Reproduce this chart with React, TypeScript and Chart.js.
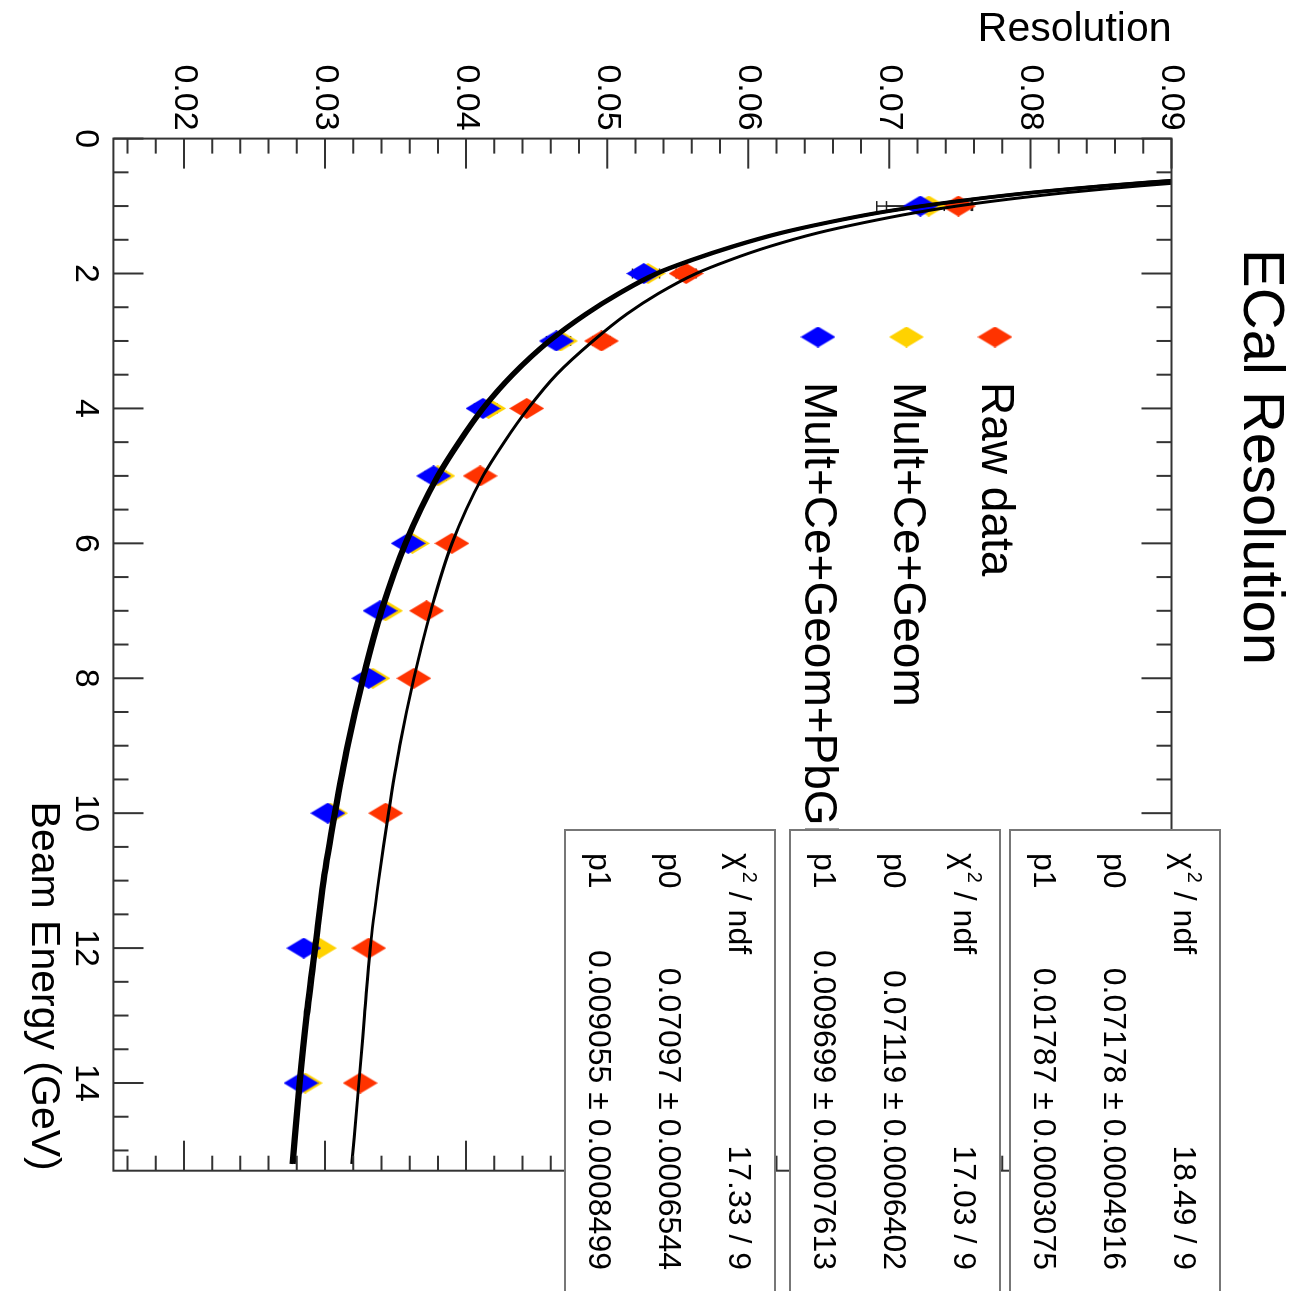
import React, { useEffect, useRef } from 'react';
import { Chart, registerables } from 'chart.js';
Chart.register(...registerables);

// ---- data ----
const energies = [1, 2, 3, 4, 5, 6, 7, 8, 10, 12, 14];
const rawRes = [0.0749, 0.0556, 0.0496, 0.0443, 0.041, 0.039, 0.0372, 0.0363, 0.0343, 0.0331, 0.0325];
const geomRes = [0.0728, 0.0529, 0.0467, 0.0416, 0.038, 0.0362, 0.0343, 0.0334, 0.0304, 0.0296, 0.0286];
const pbglRes = [0.0722, 0.0526, 0.0464, 0.0412, 0.0377, 0.0359, 0.0339, 0.0331, 0.0302, 0.0285, 0.0283];
const rawErr = [0.001, 0.0007, 0.0006, 0.0005, 0.0005, 0.0004, 0.0004, 0.0004, 0.0004, 0.0004, 0.0004];
const geomErr = [0.003, 0.0008, 0.0007, 0.0006, 0.0006, 0.0005, 0.0005, 0.0005, 0.0005, 0.0005, 0.0005];
const pbglErr = [0.0031, 0.0008, 0.0007, 0.0006, 0.0006, 0.0005, 0.0005, 0.0005, 0.0005, 0.0005, 0.0005];

const fitE = [0.6, 0.65, 0.7, 0.75, 0.8, 0.9, 1.0, 1.1, 1.25, 1.4, 1.6, 1.8, 2.0, 2.3, 2.6, 3.0, 3.5, 4.0, 4.5, 5, 6, 7, 8, 9, 10, 11, 12, 13, 14, 15.2];
const fitRaw = [0.0942, 0.0908, 0.0878, 0.0851, 0.0826, 0.0784, 0.0748, 0.0718, 0.0681, 0.0649, 0.0615, 0.0587, 0.0563, 0.0536, 0.0514, 0.049, 0.0464, 0.0444, 0.0427, 0.0412, 0.039, 0.0375, 0.0363, 0.0353, 0.0345, 0.0338, 0.0332, 0.0328, 0.0324, 0.0319];
const fitGeom = [0.0918, 0.0884, 0.0854, 0.0827, 0.0802, 0.076, 0.0724, 0.0693, 0.0656, 0.0624, 0.059, 0.0561, 0.0536, 0.0509, 0.0486, 0.046, 0.0434, 0.0413, 0.0396, 0.0381, 0.0358, 0.0341, 0.0328, 0.0317, 0.0308, 0.03, 0.0294, 0.0288, 0.0283, 0.0278];
const fitPbgl = [0.0916, 0.0882, 0.0852, 0.0825, 0.08, 0.0758, 0.0722, 0.0691, 0.0654, 0.0622, 0.0588, 0.0559, 0.0534, 0.0507, 0.0484, 0.0458, 0.0432, 0.0411, 0.0394, 0.0379, 0.0356, 0.0339, 0.0326, 0.0315, 0.0306, 0.0298, 0.0292, 0.0286, 0.0281, 0.0276];

const xTicks = [0, 2, 4, 6, 8, 10, 12, 14];
const yTicks = [0.02, 0.03, 0.04, 0.05, 0.06, 0.07, 0.08, 0.09];
const xRange = [0, 15.3];
const yRange = [0.015, 0.09];

const seriesLabels = ['Raw data', 'Mult+Ce+Geom', 'Mult+Ce+Geom+PbGl'];
const seriesColors = ['#ff3300', '#ffd200', '#0000ff'];

const statChi = ['18.49 / 9', '17.03 / 9', '17.33 / 9'];
const statP0 = ['0.07178 \u00b1 0.0004916', '0.07119 \u00b1 0.0006402', '0.07097 \u00b1 0.0006544'];
const statP1 = ['0.01787 \u00b1 0.0003075', '0.009699 \u00b1 0.0007613', '0.009055 \u00b1 0.0008499'];

const FONT = '"Liberation Sans", Arial, Helvetica, sans-serif';
const W = 1291;
const H = 1290;

function makeDiamond(color: string) {
  const c = document.createElement('canvas');
  c.width = 21;
  c.height = 35;
  const g = c.getContext('2d')!;
  g.fillStyle = color;
  g.beginPath();
  g.moveTo(10.5, 0);
  g.lineTo(21, 17.5);
  g.lineTo(10.5, 35);
  g.lineTo(0, 17.5);
  g.closePath();
  g.fill();
  return c;
}

export default function App() {
  const ref = useRef<HTMLCanvasElement>(null);

  useEffect(() => {
    const canvas = ref.current!;
    const diamonds = seriesColors.map(makeDiamond);
    const vals = [rawRes, geomRes, pbglRes];
    const errs = [rawErr, geomErr, pbglErr];

    const rootPlugin = {
      id: 'rootStyle',
      beforeDatasetsDraw(chart: any) {
        const { ctx, scales } = chart;
        const x = scales.x, y = scales.y;
        ctx.save();
        ctx.strokeStyle = '#222';
        ctx.lineWidth = 1.5;
        vals.forEach((v, s) => {
          v.forEach((val, i) => {
            const px = x.getPixelForValue(energies[i]);
            const y1 = y.getPixelForValue(val - errs[s][i]);
            const y2 = y.getPixelForValue(val + errs[s][i]);
            ctx.beginPath();
            ctx.moveTo(px, y1); ctx.lineTo(px, y2);
            ctx.moveTo(px - 5, y1); ctx.lineTo(px + 5, y1);
            ctx.moveTo(px - 5, y2); ctx.lineTo(px + 5, y2);
            ctx.stroke();
          });
        });
        ctx.restore();
      },
      afterDraw(chart: any) {
        const { ctx, chartArea: a, scales } = chart;
        const x = scales.x, y = scales.y;
        ctx.save();
        // ticks (inside, on all four sides)
        ctx.strokeStyle = '#333';
        ctx.lineWidth = 2;
        ctx.beginPath();
        for (let k = 0; k <= 30; k++) {
          const v = k * 0.5;
          if (v > xRange[1]) break;
          const px = x.getPixelForValue(v);
          const len = k % 4 === 0 ? 30 : 15;
          ctx.moveTo(px, a.bottom); ctx.lineTo(px, a.bottom - len);
          ctx.moveTo(px, a.top); ctx.lineTo(px, a.top + len);
        }
        for (let k = 8; k <= 45; k++) {
          const v = k * 0.002;
          const py = y.getPixelForValue(v);
          const len = k % 5 === 0 ? 30 : 15;
          ctx.moveTo(a.left, py); ctx.lineTo(a.left + len, py);
          ctx.moveTo(a.right, py); ctx.lineTo(a.right - len, py);
        }
        ctx.stroke();
        ctx.strokeRect(a.left, a.top, a.right - a.left, a.bottom - a.top);

        // axis titles
        ctx.fillStyle = '#000';
        ctx.font = `41px ${FONT}`;
        ctx.textBaseline = 'middle';
        ctx.textAlign = 'right';
        ctx.fillText('Beam Energy (GeV)', a.right, 1247);
        ctx.save();
        ctx.translate(30, a.top);
        ctx.rotate(-Math.PI / 2);
        ctx.textAlign = 'right';
        ctx.fillText('Resolution', 0, 0);
        ctx.restore();

        // legend
        ctx.font = `46px ${FONT}`;
        ctx.textAlign = 'left';
        seriesLabels.forEach((lab, i) => {
          const cy = 295 + i * 88.5;
          const d = diamonds[i];
          ctx.drawImage(d, 337 - d.width / 2, cy - d.height / 2);
          ctx.fillStyle = '#000';
          ctx.fillText(lab, 382, cy);
        });

        // stat boxes
        const tops = [70, 290, 515];
        tops.forEach((t, i) => {
          ctx.fillStyle = '#fff';
          ctx.fillRect(830, t, 480, 210);
          ctx.strokeStyle = '#777';
          ctx.lineWidth = 2;
          ctx.strokeRect(830, t, 480, 210);
          ctx.fillStyle = '#000';
          ctx.font = `32px ${FONT}`;
          ctx.textAlign = 'left';
          ctx.textBaseline = 'middle';
          const r1 = t + 37, r2 = t + 107, r3 = t + 177;
          ctx.fillText('\u03c7', 853, r1);
          const wChi = ctx.measureText('\u03c7').width;
          ctx.font = `20px ${FONT}`;
          ctx.fillText('2', 853 + wChi + 2, r1 - 11);
          const w2 = ctx.measureText('2').width;
          ctx.font = `32px ${FONT}`;
          ctx.fillText(' / ndf', 853 + wChi + 2 + w2, r1);
          ctx.fillText('p0', 853, r2);
          ctx.fillText('p1', 853, r3);
          ctx.textAlign = 'right';
          ctx.fillText(statChi[i], 1270, r1);
          ctx.fillText(statP0[i], 1270, r2);
          ctx.fillText(statP1[i], 1270, r3);
        });

        // title
        ctx.fillStyle = '#000';
        ctx.font = `58px ${FONT}`;
        ctx.textAlign = 'center';
        ctx.textBaseline = 'middle';
        ctx.fillText('ECal Resolution', 457, 30);
        ctx.restore();
      },
    };

    const lineDs = (data: number[], width: number) => ({
      data: fitE.map((e, i) => ({ x: e, y: data[i] })),
      showLine: true,
      borderColor: '#000',
      borderWidth: width,
      pointRadius: 0,
      cubicInterpolationMode: 'monotone' as const,
      order: 0,
    });
    const ptDs = (label: string, data: number[], idx: number, order: number) => ({
      label,
      data: energies.map((e, i) => ({ x: e, y: data[i] })),
      showLine: false,
      pointStyle: diamonds[idx],
      pointRadius: 10,
      backgroundColor: seriesColors[idx],
      borderColor: seriesColors[idx],
      order,
    });

    const tickFont = { family: FONT, size: 34 };
    const chart = new Chart(canvas, {
      type: 'scatter',
      data: {
        datasets: [
          lineDs(fitRaw, 3),
          lineDs(fitGeom, 3.5),
          lineDs(fitPbgl, 3.5),
          ptDs(seriesLabels[0], rawRes, 0, 3),
          ptDs(seriesLabels[1], geomRes, 1, 2),
          ptDs(seriesLabels[2], pbglRes, 2, 1),
        ] as any,
      },
      options: {
        animation: false,
        responsive: false,
        devicePixelRatio: 1,
        events: [],
        layout: { padding: { left: 0, top: 118.5, right: 120.3, bottom: 53.4 } },
        plugins: { legend: { display: false }, tooltip: { enabled: false } },
        scales: {
          x: {
            type: 'linear',
            min: xRange[0],
            max: xRange[1],
            grid: { display: false, drawTicks: false },
            border: { display: false },
            ticks: {
              font: tickFont,
              color: '#000',
              padding: 8,
              maxRotation: 0,
              minRotation: 0,
              autoSkip: false,
              callback: (v: any) => String(v),
            },
            afterBuildTicks: (s: any) => {
              s.ticks = xTicks.map((v) => ({ value: v }));
            },
            afterFit: (s: any) => {
              s.height = 60;
            },
          },
          y: {
            type: 'linear',
            min: yRange[0],
            max: yRange[1],
            grid: { display: false, drawTicks: false },
            border: { display: false },
            ticks: {
              font: tickFont,
              color: '#000',
              padding: 8,
              autoSkip: false,
              callback: (v: any) => Number(v).toFixed(2),
            },
            afterBuildTicks: (s: any) => {
              s.ticks = yTicks.map((v) => ({ value: v }));
            },
            afterFit: (s: any) => {
              s.width = 138.6;
            },
          },
        },
      } as any,
      plugins: [rootPlugin],
    });
    return () => chart.destroy();
  }, []);

  return (
    <div style={{ position: 'fixed', left: 0, top: 0, width: 1290, height: 1291, overflow: 'hidden', background: '#fff' }}>
      <div
        style={{
          position: 'absolute',
          left: 0,
          top: 0,
          width: W,
          height: H,
          transformOrigin: '0 0',
          transform: 'translate(1290px, 0px) rotate(90deg)',
        }}
      >
        <canvas ref={ref} width={W} height={H} style={{ display: 'block', width: W, height: H }} />
      </div>
    </div>
  );
}
